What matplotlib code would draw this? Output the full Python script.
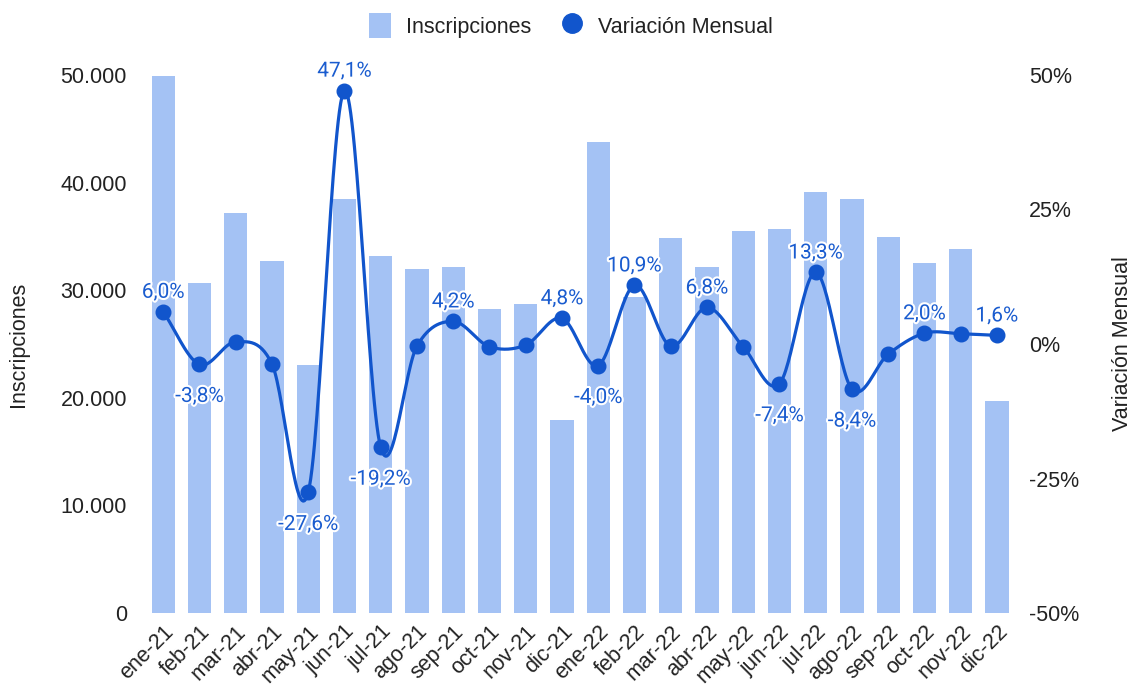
import numpy as np
import matplotlib
matplotlib.use("Agg")
from matplotlib import pyplot as plt
from matplotlib.patches import Patch
from matplotlib.lines import Line2D
import matplotlib.patheffects as pe
from matplotlib.ticker import FuncFormatter

plt.rcParams['font.family'] = ['Liberation Sans', 'DejaVu Sans']

# data
months = ['ene-21', 'feb-21', 'mar-21', 'abr-21', 'may-21', 'jun-21', 'jul-21', 'ago-21',
          'sep-21', 'oct-21', 'nov-21', 'dic-21', 'ene-22', 'feb-22', 'mar-22', 'abr-22',
          'may-22', 'jun-22', 'jul-22', 'ago-22', 'sep-22', 'oct-22', 'nov-22', 'dic-22']
inscripciones = [49950, 30700, 37150, 32690, 23080, 38450, 33150, 32000,
                 32160, 28220, 28690, 17940, 43770, 29400, 34820, 32180,
                 35500, 35660, 39130, 38450, 34970, 32500, 33800, 19730]
variacion = [6.0, -3.8, 0.4, -3.7, -27.6, 47.1, -19.2, -0.4,
             4.2, -0.5, -0.2, 4.8, -4.0, 10.9, -0.4, 6.8,
             -0.5, -7.4, 13.3, -8.4, -1.9, 2.0, 1.9, 1.6]
# which points carry a value label in the original
show_label = [1, 1, 0, 0, 1, 1, 1, 0,
              1, 0, 0, 1, 1, 1, 0, 1,
              0, 1, 1, 1, 0, 1, 0, 1]

bar_color = '#a4c2f4'
line_color = '#1155cc'
text_color = '#222222'

x = np.arange(len(months))

# smooth curve through the points (Catmull-Rom)
def smooth(xs, ys, n=30):
    xs = np.asarray(xs, float)
    ys = np.asarray(ys, float)
    px = np.concatenate([[2 * xs[0] - xs[1]], xs, [2 * xs[-1] - xs[-2]]])
    py = np.concatenate([[2 * ys[0] - ys[1]], ys, [2 * ys[-1] - ys[-2]]])
    out_x, out_y = [], []
    t = np.linspace(0, 1, n)
    for i in range(1, len(px) - 2):
        for p, out in ((px, out_x), (py, out_y)):
            p0, p1, p2, p3 = p[i - 1], p[i], p[i + 1], p[i + 2]
            m1 = (p2 - p0) / 2
            m2 = (p3 - p1) / 2
            h00 = 2 * t**3 - 3 * t**2 + 1
            h10 = t**3 - 2 * t**2 + t
            h01 = -2 * t**3 + 3 * t**2
            h11 = t**3 - t**2
            out.extend(h00 * p1 + h10 * m1 + h01 * p2 + h11 * m2)
    return np.array(out_x), np.array(out_y)

fig = plt.figure(figsize=(11.35, 6.86), dpi=100)
ax1 = fig.add_axes([0.1278, 0.1064, 0.7665, 0.7843])
ax2 = ax1.twinx()

ax1.bar(x, inscripciones, width=0.64, color=bar_color, zorder=1)
ax1.set_xlim(-0.5, len(months) - 0.5)
ax1.set_ylim(0, 50000)
ax1.set_yticks([0, 10000, 20000, 30000, 40000, 50000])
ax1.yaxis.set_major_formatter(FuncFormatter(lambda v, p: f'{int(v):,}'.replace(',', '.')))

sx, sy = smooth(x, variacion)
ax2.plot(sx, sy, color=line_color, lw=2.3, zorder=3, solid_capstyle='round')
ax2.plot(x, variacion, 'o', color=line_color, ms=10.5, zorder=4)
ax2.set_ylim(-50, 50)
ax2.set_yticks([-50, -25, 0, 25, 50])
ax2.yaxis.set_major_formatter(FuncFormatter(lambda v, p: f'{int(v)}%'))

for i, v in enumerate(variacion):
    if not show_label[i]:
        continue
    txt = f'{v:.1f}%'.replace('.', ',')
    off = 14 if v > 0 else -23
    ax2.annotate(txt, (x[i], v), xytext=(0, off), textcoords='offset points',
                 ha='center', va='center', fontsize=15, color='#1a5ccf', zorder=5,
                 family=['Roboto', 'DejaVu Sans'],
                 path_effects=[pe.withStroke(linewidth=3, foreground='white')])

for a in (ax1, ax2):
    for s in a.spines.values():
        s.set_visible(False)
    a.tick_params(length=0, labelsize=15.5, colors=text_color)

ax1.tick_params(axis='y', pad=13)
ax2.tick_params(axis='y', pad=10)
ax1.set_xticks(x)
ax1.set_xticklabels(months, rotation=45, ha='right', va='top', rotation_mode='anchor')
ax1.tick_params(axis='x', pad=6)

ax1.set_ylabel('Inscripciones', fontsize=15.5, color=text_color)
ax2.set_ylabel('Variación Mensual', fontsize=15.5, color=text_color, rotation=90)
ax1.yaxis.set_label_coords(-0.133, 0.5)
ax2.yaxis.set_label_coords(1.112, 0.5)

handles = [Patch(facecolor=bar_color, edgecolor='none', label='Inscripciones'),
           Line2D([], [], marker='o', ls='none', color=line_color, ms=14, label='Variación Mensual')]
fig.legend(handles=handles, loc='center', bbox_to_anchor=(0.503, 0.963), ncol=2, frameon=False,
           fontsize=15.5, handlelength=1.0, handleheight=1.4, columnspacing=1.4, handletextpad=0.7,
           labelcolor=text_color)

fig.savefig('out.png', dpi=100)
